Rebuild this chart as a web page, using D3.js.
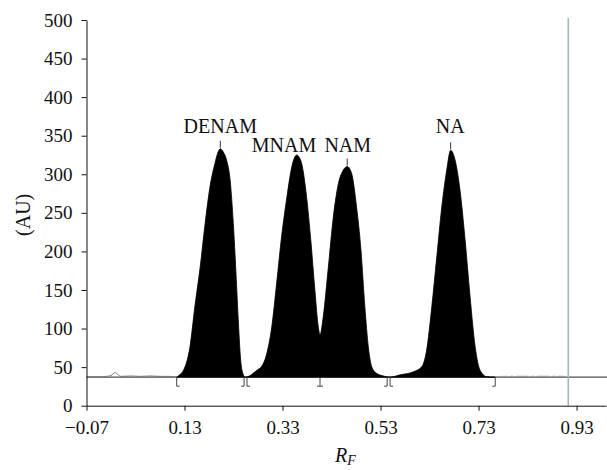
<!DOCTYPE html>
<html lang="en">

<head>
  <meta charset="utf-8">
  <script src='https://d3js.org/d3.v7.min.js'></script>
  <style>
    body { margin: 0; background: #fff; }
    text { font-family: "Liberation Serif", "Times New Roman", serif; }
  </style>
</head>

<body>
  <script>

    // densitogram (RF vs AU), peaks filled black above the baseline

    const width = 607;
    const height = 470;
    const margin = {top: 20, right: 1, bottom: 64.3, left: 86.5};

    // ticks
    const xTicks = [-0.07, 0.13, 0.33, 0.53, 0.73, 0.93];
    const yTicks = [0, 50, 100, 150, 200, 250, 300, 350, 400, 450, 500];

    const traceRf = [0.114, 0.120, 0.128, 0.141, 0.151, 0.162, 0.172, 0.182, 0.192, 0.198, 0.203, 0.209, 0.216, 0.223, 0.2296, 0.235, 0.240, 0.2446, 0.250, 0.2535,
      0.258, 0.264, 0.270, 0.280, 0.2875, 0.298, 0.308, 0.318, 0.328, 0.339, 0.349, 0.354, 0.359, 0.364, 0.369, 0.379, 0.3876, 0.396, 0.403, 0.4065,
      0.413, 0.4235, 0.4337, 0.444, 0.454, 0.462, 0.471, 0.481, 0.490, 0.498, 0.505, 0.512, 0.522, 0.533, 0.5427,
      0.549, 0.570, 0.597, 0.614, 0.624, 0.6345, 0.6447, 0.655, 0.665, 0.673, 0.682, 0.692, 0.7025, 0.7127, 0.723, 0.733, 0.7467, 0.764];
    const traceAU = [37, 40, 46, 76, 128, 180, 236, 284, 314, 328, 333, 329, 318, 293, 236, 172, 107, 59, 40, 37,
      37.5, 39, 42, 47, 51, 68, 102, 159, 219, 271, 310, 321, 325, 322, 314, 271, 215, 150, 102, 92,
      115, 180, 245, 288, 305.5, 310, 301, 258, 202, 128, 76.5, 50.5, 42, 39, 37.5,
      37, 40, 44, 50.5, 72, 128, 193, 258, 305.5, 331, 318.5, 280, 215, 141, 76.5, 46, 37.6, 37];

    // noise before the first peak and tail after the last one
    const noiseRf = [-0.07, -0.045, -0.03, -0.02, -0.012, -0.005, 0.0, 0.02, 0.04, 0.06, 0.08, 0.10, 0.114];
    const noiseAU = [37.5, 37.5, 38, 39, 43, 40, 38, 38.5, 38, 38.5, 38, 38, 37];
    const tailRf = [0.764, 0.80, 0.84, 0.88, 0.905];
    const tailAU = [37.5, 38, 38, 38, 38];

    const baselineAU = 37;
    const frontRf = 0.913;

    // peak names, where the names sit and the apex marks
    const peakNames = ["DENAM", "MNAM", "NAM", "NA"];
    const nameRf = [0.203, 0.333, 0.463, 0.672];
    const nameAU = [353, 329, 329, 353];
    const apexRf = [0.203, 0.462, 0.673];
    const apexAU = [333, 310, 331];

    // peak start / end marks under the baseline
    const markRf = [0.114, 0.2515, 0.2575, 0.4065, 0.5435, 0.5495, 0.764];
    const markType = ["start", "end", "start", "both", "end", "start", "end"];

    const svg = d3.select("body")
      .append("svg")
      .attr("width", width)
      .attr("height", height);

    const x = d3.scaleLinear()
      .domain([-0.07, 0.99])
      .range([margin.left, width - margin.right]);
    const y = d3.scaleLinear()
      .domain([0, 500])
      .range([height - margin.bottom, margin.top]);

    const trace = traceRf.map((r, i) => ({r: r, v: traceAU[i]}));
    const noise = noiseRf.map((r, i) => ({r: r, v: noiseAU[i]}));
    const tail = tailRf.map((r, i) => ({r: r, v: tailAU[i]}));

    // baseline
    svg.append("line")
      .attr("x1", x(-0.07)).attr("x2", width)
      .attr("y1", y(baselineAU)).attr("y2", y(baselineAU))
      .attr("stroke", "#4a4f52")
      .attr("stroke-width", 1.2);

    // noise + tail
    const line = d3.line().x(d => x(d.r)).y(d => y(d.v)).curve(d3.curveMonotoneX);
    svg.append("path")
      .datum(noise)
      .attr("fill", "none")
      .attr("stroke", "#777")
      .attr("stroke-width", 1)
      .attr("d", line);
    svg.append("path")
      .datum(tail)
      .attr("fill", "none")
      .attr("stroke", "#999")
      .attr("stroke-width", 1.2)
      .attr("stroke-dasharray", "12,3,3,3")
      .attr("d", line);

    // the peaks
    svg.append("path")
      .datum(trace)
      .attr("fill", "#000")
      .attr("stroke", "#000")
      .attr("stroke-width", 0.8)
      .attr("d", d3.area()
        .x(d => x(d.r))
        .y0(y(baselineAU))
        .y1(d => y(d.v))
        .curve(d3.curveMonotoneX));

    // start/end marks
    const marks = svg.append("g")
      .attr("stroke", "#444")
      .attr("stroke-width", 1)
      .attr("fill", "none");
    marks.selectAll("path")
      .data(markRf)
      .enter()
      .append("path")
      .attr("d", (d, i) => {
        const px = x(d), top = y(baselineAU), bot = top + 9;
        const t = markType[i];
        let p = "M" + px + "," + top + "V" + bot;
        if (t === "start" || t === "both") p += "M" + px + "," + bot + "H" + (px + 3);
        if (t === "end" || t === "both") p += "M" + px + "," + bot + "H" + (px - 3);
        return p;
      });

    // apex marks
    svg.append("g")
      .selectAll("line")
      .data(apexRf)
      .enter()
      .append("line")
      .attr("x1", d => x(d)).attr("x2", d => x(d))
      .attr("y1", (d, i) => y(apexAU[i]) - 1)
      .attr("y2", (d, i) => y(apexAU[i]) - 8)
      .attr("stroke", "#333")
      .attr("stroke-width", 1);

    // solvent front
    svg.append("line")
      .attr("x1", x(frontRf)).attr("x2", x(frontRf))
      .attr("y1", y(0)).attr("y2", y.range()[1] - 2)
      .attr("stroke", "#a3b6bd")
      .attr("stroke-width", 1.6);

    // axes
    const xAxis = svg.append("g")
      .attr("transform", "translate(0," + y(0) + ")")
      .call(d3.axisBottom(x)
        .tickValues(xTicks)
        .tickFormat(d3.format(".2f"))
        .tickSize(5)
        .tickSizeOuter(0)
        .tickPadding(10));
    const yAxis = svg.append("g")
      .attr("transform", "translate(" + x(-0.07) + ",0)")
      .call(d3.axisLeft(y)
        .tickValues(yTicks)
        .tickSize(5)
        .tickSizeOuter(0)
        .tickPadding(9));
    [xAxis, yAxis].forEach(a => {
      a.attr("font-family", "Liberation Serif, serif")
        .attr("font-size", 19);
      a.selectAll("text").attr("fill", "#111");
      a.selectAll("line, path").attr("stroke", "#111");
    });

    // peak names
    svg.append("g")
      .selectAll("text")
      .data(peakNames)
      .enter()
      .append("text")
      .attr("x", (d, i) => x(nameRf[i]))
      .attr("y", (d, i) => y(nameAU[i]))
      .attr("text-anchor", "middle")
      .attr("font-size", 20)
      .attr("fill", "#111")
      .text(d => d);

    // axis titles
    svg.append("text")
      .attr("transform", "translate(30," + ((y(0) + y(500)) / 2 + 2) + ") rotate(-90)")
      .attr("text-anchor", "middle")
      .attr("font-size", 20)
      .attr("fill", "#111")
      .text("(AU)");

    const rf = svg.append("text")
      .attr("x", 335)
      .attr("y", 462)
      .attr("font-size", 20)
      .attr("font-style", "italic")
      .attr("fill", "#111");
    rf.append("tspan").text("R");
    rf.append("tspan").attr("font-size", 14).attr("dy", 3).text("F");

  </script>
</body>

</html>
